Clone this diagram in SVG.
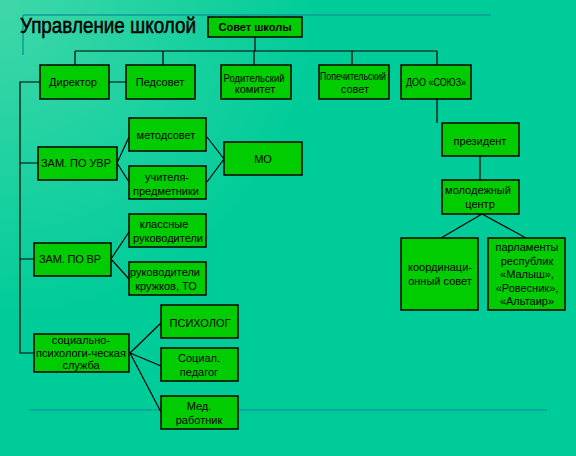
<svg xmlns="http://www.w3.org/2000/svg" width="576" height="456" viewBox="0 0 576 456">
<defs>
<radialGradient id="bg" cx="0" cy="0" r="1" gradientUnits="userSpaceOnUse" gradientTransform="scale(320)">
<stop offset="0" stop-color="#40d7a9"/>
<stop offset="1" stop-color="#00cc99"/>
</radialGradient>
</defs>
<style>
.box{fill:#00cc00;stroke:#000;stroke-width:1.5}
.t{font-family:"Liberation Sans",Arial,sans-serif;font-size:11px;fill:#000;text-anchor:middle}
.c{stroke:#000;stroke-width:1.2;fill:none}
.deco{stroke:#12999a;stroke-width:1.5;fill:none}
</style>
<rect width="576" height="456" fill="url(#bg)"/>
<path class="deco" d="M23 15H491M23 15V55M29 410H547"/>
<text x="20" y="33" font-family="'Liberation Sans',Arial,sans-serif" font-size="22" fill="#000" stroke="#000" stroke-width="0.5" textLength="176" lengthAdjust="spacingAndGlyphs">Управление школой</text>
<g id="connectors">
<path class="c" d="M255 37V51M75 51H437M75 51V65M163 51V65M254 51V65M352 51V65M437 51V65"/>
<path class="c" d="M109 82H126M40 82H20V353H34M20 163H38M20 259H34"/>
<path class="c" d="M117 163L129 137M117 163L129 182M207 137L224 159M207 182L224 159"/>
<path class="c" d="M111 259L129 232M111 259L129 279"/>
<path class="c" d="M130 353L161 323M130 353L161 366M130 353L161 412"/>
<path class="c" d="M437 99V123M480 156V180M482 214L441 238M482 214L526 238"/>
</g>
<g id="sovet"><rect class="box" x="208" y="17" width="94" height="20"/><text class="t" x="255" y="31" font-size="10" font-weight="bold">Совет школы</text></g>
<g id="direktor"><rect class="box" x="40" y="65" width="69" height="34"/><text class="t" x="73" y="86">Директор</text></g>
<g id="pedsovet"><rect class="box" x="126" y="65" width="69" height="34"/><text class="t" x="160" y="86">Педсовет</text></g>
<g id="roditel"><rect class="box" x="221" y="65" width="70" height="34"/><text class="t" x="254" y="82" font-size="10" textLength="61" lengthAdjust="spacingAndGlyphs">Родительский</text><text class="t" x="255" y="93" font-size="8">комитет</text></g>
<g id="popech"><rect class="box" x="319" y="65" width="70" height="34"/><text class="t" x="353" y="80" font-size="10" textLength="66" lengthAdjust="spacingAndGlyphs">Попечительский</text><text class="t" x="355" y="93" font-size="9">совет</text></g>
<g id="doo"><rect class="box" x="401" y="65" width="70" height="34"/><text class="t" x="436" y="86" textLength="60" lengthAdjust="spacingAndGlyphs">ДОО «СОЮЗ»</text></g>
<g id="zam-uvr"><rect class="box" x="38" y="147" width="79" height="33"/><text class="t" x="76" y="167" textLength="70" lengthAdjust="spacing">ЗАМ. ПО УВР</text></g>
<g id="metodsovet"><rect class="box" x="129" y="118" width="77" height="33"/><text class="t" x="166" y="139">методсовет</text></g>
<g id="uchitelya"><rect class="box" x="129" y="166" width="77" height="33"/><text class="t" x="167" y="181">учителя-</text><text class="t" x="166" y="195">предметники</text></g>
<g id="mo"><rect class="box" x="224" y="142" width="78" height="33"/><text class="t" x="263" y="163">МО</text></g>
<g id="zam-vr"><rect class="box" x="34" y="243" width="77" height="33"/><text class="t" x="70" y="263" textLength="62" lengthAdjust="spacing">ЗАМ. ПО ВР</text></g>
<g id="klassnye"><rect class="box" x="129" y="214" width="77" height="33"/><text class="t" x="164" y="228">классные</text><text class="t" x="168" y="242">руководители</text></g>
<g id="kruzhki"><rect class="box" x="129" y="262" width="77" height="33"/><text class="t" x="165" y="276">руководители</text><text class="t" x="166" y="290">кружков, ТО</text></g>
<g id="social"><rect class="box" x="34" y="334" width="95" height="38"/><text class="t" x="81" y="344">социально-</text><text class="t" x="81" y="357">психологи-ческая</text><text class="t" x="81" y="369">служба</text></g>
<g id="psiholog"><rect class="box" x="161" y="305" width="77" height="33"/><text class="t" x="200" y="327" font-size="12">ПСИХОЛОГ</text></g>
<g id="socped"><rect class="box" x="161" y="348" width="77" height="33"/><text class="t" x="199" y="362">Социал.</text><text class="t" x="199" y="376">педагог</text></g>
<g id="med"><rect class="box" x="161" y="396" width="77" height="33"/><text class="t" x="199" y="410">Мед.</text><text class="t" x="199" y="424">работник</text></g>
<g id="prezident"><rect class="box" x="442" y="123" width="77" height="33"/><text class="t" x="480" y="145" font-size="14">президент</text></g>
<g id="molod"><rect class="box" x="442" y="180" width="77" height="34"/><text class="t" x="478" y="194">молодежный</text><text class="t" x="480" y="208">центр</text></g>
<g id="koord"><rect class="box" x="401" y="238" width="77" height="72"/><text class="t" x="440" y="271">координаци-</text><text class="t" x="440" y="285">онный совет</text></g>
<g id="parl"><rect class="box" x="488" y="238" width="77" height="72"/><text class="t" x="527" y="251">парламенты</text><text class="t" x="527" y="265">республик</text><text class="t" x="527" y="278">«Малыш»,</text><text class="t" x="527" y="292">«Ровесник»,</text><text class="t" x="527" y="305">«Альтаир»</text></g>
</svg>
